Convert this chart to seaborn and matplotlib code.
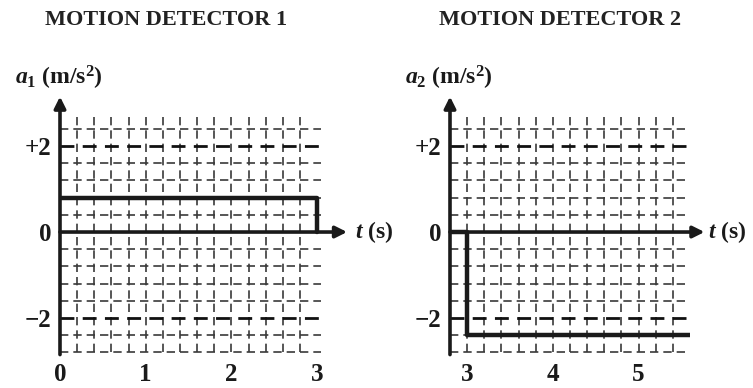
import numpy as np
import pandas as pd
import matplotlib.pyplot as plt
import seaborn as sns

# valores
t1 = [0, 3, 3]
a1 = [0.8, 0.8, 0]
t2 = [2.8, 3, 3, 5.6]
a2 = [0, 0, -2.4, -2.4]

titulos = ['MOTION DETECTOR 1', 'MOTION DETECTOR 2']
etiquetas_y = [r'$a_1$ (m/s$^2$)', r'$a_2$ (m/s$^2$)']
xticks1 = [0, 1, 2, 3]
xticks2 = [3, 4, 5]
yticks = [-2, 0, 2]
yticks_txt = ['\u22122', '0', '+2']

sns.set_theme(style='white')
plt.rcParams['font.family'] = ['Liberation Serif', 'DejaVu Serif']
plt.rcParams['font.weight'] = 'bold'
plt.rcParams['mathtext.fontset'] = 'custom'
plt.rcParams['mathtext.rm'] = 'Liberation Serif:bold'
plt.rcParams['mathtext.it'] = 'Liberation Serif:italic:bold'
plt.rcParams['mathtext.bf'] = 'Liberation Serif:bold'

fig = plt.figure(figsize=(7.53, 3.88), dpi=100)
tinta = '#1a1a1a'

def panel(rect, t, a, xlim, xticks, ylabel, x_arrow, gap, title_x, title):
    ax = fig.add_axes(rect)
    ax.set_xlim(xlim)
    ax.set_ylim(-2.85, 2.75)
    for s in ax.spines.values():
        s.set_visible(False)

    x0, x1 = xlim
    # cuadricula punteada
    vx = np.arange(x0 + 0.2, x1 - 0.1, 0.2)
    ax.vlines(vx, -2.8, 2.72, colors='#3a3a3a', linestyles=(0, (5, 3)), lw=1.2)
    hy = np.round(np.arange(-2.8, 2.41, 0.4), 1)
    for y in hy:
        heavy = abs(abs(y) - 2) < 0.01
        ax.hlines(y, x0, x1 - 0.05, colors='#111111' if heavy else '#3a3a3a',
                  linestyles=(0, (5, 3)), lw=2.0 if heavy else 1.2)

    df = pd.DataFrame({'t': t, 'a': a})
    sns.lineplot(data=df, x='t', y='a', sort=False, estimator=None,
                 color=tinta, lw=3.2, ax=ax)

    # ejes con flechas
    ax.annotate('', xy=(x0, 3.15), xytext=(x0, -2.85),
                arrowprops=dict(arrowstyle='-|>', lw=2.6, color=tinta,
                                mutation_scale=17, shrinkA=0, shrinkB=0),
                annotation_clip=False)
    ax.annotate('', xy=(x_arrow, 0), xytext=(x0, 0),
                arrowprops=dict(arrowstyle='-|>', lw=2.6, color=tinta,
                                mutation_scale=17, shrinkA=0, shrinkB=0),
                annotation_clip=False)
    ax.text(x_arrow + gap, 0, r'$t$ (s)', fontsize=17, va='center', ha='left',
            color=tinta)
    ax.text(x0 - 0.53, 3.58, ylabel, fontsize=17, va='center', ha='left',
            color=tinta)

    ax.set_xticks(xticks)
    ax.set_xticklabels([str(v) for v in xticks])
    ax.set_yticks(yticks)
    ax.set_yticklabels(yticks_txt)
    ax.tick_params(axis='both', labelsize=18, length=6, width=1.6, color=tinta,
                   labelcolor=tinta, direction='inout', pad=3)
    ax.set_xlabel('')
    ax.set_ylabel('')
    fig.text(title_x, 0.948, title, fontsize=16, ha='center', va='center',
             color='#222222')
    return ax

panel([60 / 753, 0.0861, 3.1 * 85.7 / 753, 0.6207], t1, a1, (0, 3.1), xticks1,
      etiquetas_y[0], 3.35, 0.09, 166 / 753, titulos[0])
panel([450 / 753, 0.0861, 2.8 * 85.7 / 753, 0.6207], t2, a2, (2.8, 5.6), xticks2,
      etiquetas_y[1], 5.77, 0.04, 560 / 753, titulos[1])

plt.savefig('out.png', dpi=100)
